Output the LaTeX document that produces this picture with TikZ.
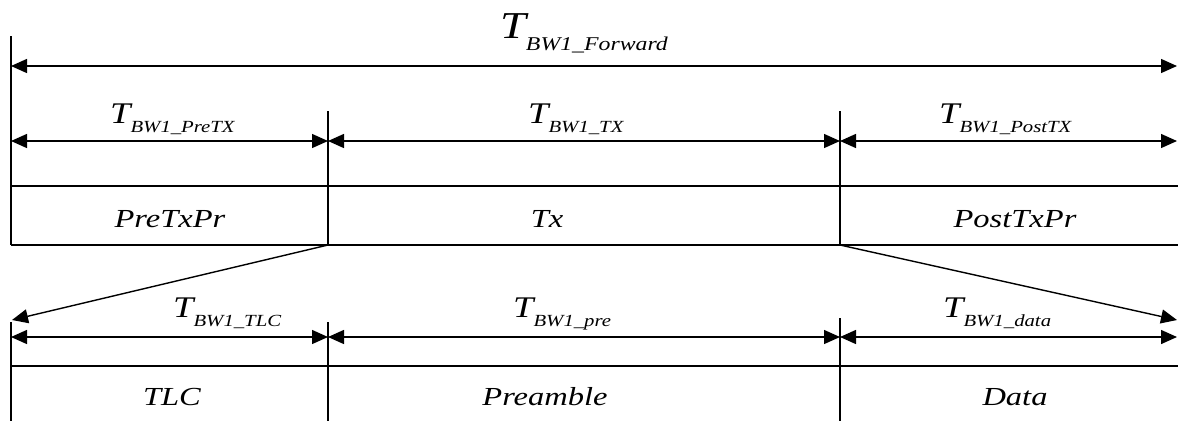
\documentclass[tikz,border=0pt]{standalone}
\usepackage{fontspec}
\setmainfont{Liberation Serif}
\usetikzlibrary{arrows.meta}
\newcommand{\tlab}[4]{\scalebox{1.22}[1]{{\fontsize{#1}{#1}\selectfont\itshape T}\raisebox{-#3pt}{\fontsize{#2}{#2}\selectfont\itshape #4}}}
\newcommand{\btxt}[1]{\scalebox{1.25}[1]{#1}}
\begin{document}
\begin{tikzpicture}[x=1pt,y=-1pt,
  ln/.style={line width=1.4pt},
  thin/.style={line width=1.2pt},
  dim/.style={line width=1.4pt,{Triangle[length=16pt,width=14pt]}-{Triangle[length=16pt,width=14pt]}},
  pointer/.style={line width=1.4pt,-{Triangle[length=16pt,width=14pt]}},
  boxtxt/.style={font=\fontsize{26}{26}\selectfont\itshape,anchor=base,inner sep=0pt},
  lab/.style={anchor=base west,inner sep=0pt}]
\useasboundingbox (0,0) rectangle (1178,421);
% coordinates
\coordinate (L0) at (11,36);
\coordinate (L1) at (11,245);
\coordinate (F0) at (11,66);
\coordinate (F1) at (1177,66);
\coordinate (a0) at (328,111);
\coordinate (a1) at (328,245);
\coordinate (b0) at (840,111);
\coordinate (b1) at (840,245);
\coordinate (r0) at (11,141);
\coordinate (r1) at (328,141);
\coordinate (r2) at (840,141);
\coordinate (r3) at (1177,141);
\coordinate (t0) at (11,186);
\coordinate (t1) at (1178,186);
\coordinate (u0) at (11,245);
\coordinate (u1) at (1178,245);
\coordinate (s0) at (12,320);
\coordinate (s1) at (1177,320);
\coordinate (M0) at (11,322);
\coordinate (M1) at (11,421);
\coordinate (c0) at (328,322);
\coordinate (c1) at (328,421);
\coordinate (d0) at (840,318);
\coordinate (d1) at (840,421);
\coordinate (q0) at (11,337);
\coordinate (q1) at (328,337);
\coordinate (q2) at (840,337);
\coordinate (q3) at (1177,337);
\coordinate (v0) at (11,366);
\coordinate (v1) at (1178,366);
% top part
\draw[thin] (L0) -- (L1);
\draw[dim] (F0) -- (F1);
\draw[thin] (a0) -- (a1);
\draw[thin] (b0) -- (b1);
\draw[dim] (r0) -- (r1);
\draw[dim] (r1) -- (r2);
\draw[dim] (r2) -- (r3);
\draw[ln] (t0) -- (t1);
\draw[ln] (u0) -- (u1);
% slants
\draw[pointer] (a1) -- (s0);
\draw[pointer] (b1) -- (s1);
% bottom part
\draw[thin] (M0) -- (M1);
\draw[thin] (c0) -- (c1);
\draw[thin] (d0) -- (d1);
\draw[dim] (q0) -- (q1);
\draw[dim] (q1) -- (q2);
\draw[dim] (q2) -- (q3);
\draw[ln] (v0) -- (v1);
% labels
\node[lab] (lfwd) at (500,38) {\tlab{38}{19.5}{12}{BW1\_Forward}};
\node[lab] (lpre) at (110,123) {\tlab{30}{17}{9}{BW1\_PreTX}};
\node[lab] (ltx) at (528,123) {\tlab{30}{17}{9}{BW1\_TX}};
\node[lab] (lpost) at (939,123) {\tlab{30}{17}{9}{BW1\_PostTX}};
\node[lab] (ltlc) at (173,317) {\tlab{30}{17}{9}{BW1\_TLC}};
\node[lab] (lpream) at (513,317) {\tlab{30}{17}{9}{BW1\_pre}};
\node[lab] (ldata) at (943,317) {\tlab{30}{17}{9}{BW1\_data}};
% box texts
\node[boxtxt] (n1) at (170,227) {\btxt{PreTxPr}};
\node[boxtxt] (n2) at (547,227) {\btxt{Tx}};
\node[boxtxt] (n3) at (1015,227) {\btxt{PostTxPr}};
\node[boxtxt] (n4) at (172,405) {\btxt{TLC}};
\node[boxtxt] (n5) at (545,405) {\btxt{Preamble}};
\node[boxtxt] (n6) at (1015,405) {\btxt{Data}};
\end{tikzpicture}
\end{document}
